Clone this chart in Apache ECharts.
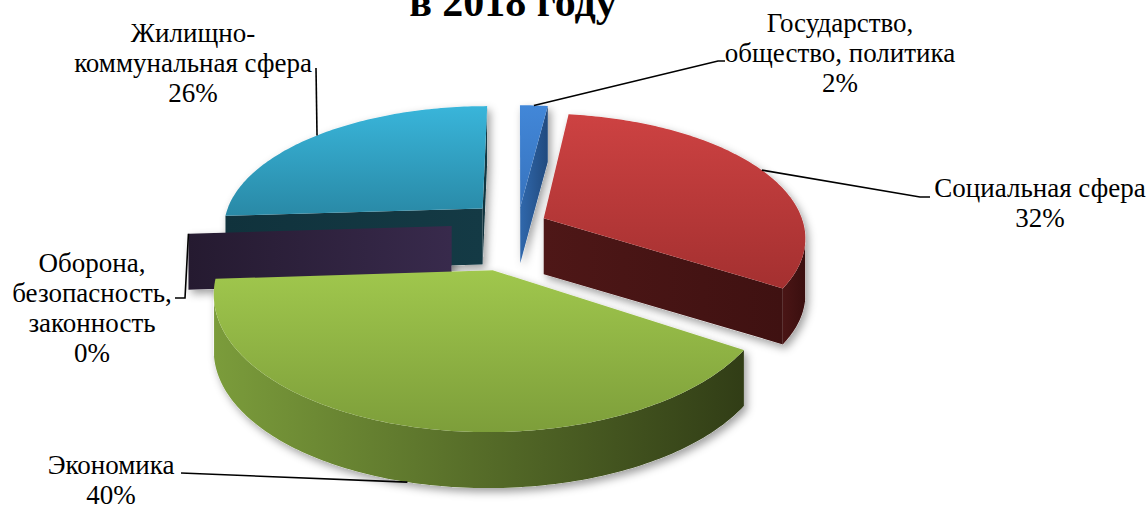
<!DOCTYPE html>
<html>
<head>
<meta charset="utf-8">
<script src="https://cdn.jsdelivr.net/npm/echarts@6/dist/echarts.min.js"></script>
<style>
  html, body { margin: 0; padding: 0; background: #ffffff; }
  #chart { width: 1146px; height: 506px; }
</style>
</head>
<body>
<div id="chart"></div>
<script>
// ---- data ----
const categories = [
  'Государство,\nобщество, политика',
  'Социальная сфера',
  'Экономика',
  'Оборона,\nбезопасность,\nзаконность',
  'Жилищно-\nкоммунальная сфера'
];
const shares = [2, 32, 40, 0, 26];
const titleText = 'в 2018 году';

// ---- look ----
const explode = [0.14, 0.11, 0.37, 0.255, 0.19];
const palette = [
  { top: ['#4287d8', '#3773be'], face: ['#3068ac', '#214a7e'], wall: ['#3068ac', '#1f4474'] },
  { top: ['#cd4242', '#a43030'], face: ['#4e1717', '#3f1111'], wall: ['#4a1515', '#3a0f0f'] },
  { top: ['#a0c74d', '#7d9e3a'], face: ['#607f2b', '#333f18'], wall: ['#7b9c3b', '#313d16'] },
  { top: ['#3a2a50', '#2c1f3c'], face: ['#251a30', '#382a4c'], wall: ['#2a1d38', '#2a1d38'] },
  { top: ['#39b5da', '#2989a6'], face: ['#10323c', '#143a45'], wall: ['#10323c', '#10323c'] }
];
const view = { cx: 518, cy: 224, rx: 260, ry: 122, persp: 0.15, depth: 56, camZ: -5.5, startAngle: 0 };
const serif = '"Liberation Serif", "Times New Roman", serif';
const labelSize = 27;
const lineStep = 30;
const labelLayout = [
  { x: 840, y: 32, level: 'top', path: [[718, 61], [725, 61]] },
  { x: 1040, y: 197, level: 'top', path: [[920, 197], [930, 197]] },
  { x: 111, y: 474, level: 'bottom', path: [[181, 473]] },
  { x: 92, y: 272, level: 'top', path: [[185, 298], [175, 298]] },
  { x: 193, y: 42, level: 'top', path: [[316, 68]] }
];

const total = shares.reduce((s, v) => s + v, 0);
const DEG = Math.PI / 180;

function project(X, Z, down) {
  const d = 1 + view.persp * Z;
  return [view.cx + view.rx * X / d, view.cy - view.ry * Z / d + (down || 0)];
}

function sliceGeometry(share, before, idx) {
  const a0 = (view.startAngle + before / total * 360) * DEG;
  const a1 = (view.startAngle + (before + share) / total * 360) * DEG;
  const mid = (a0 + a1) / 2;
  const ox = explode[idx] * Math.sin(mid);
  const oz = explode[idx] * Math.cos(mid);
  const steps = Math.max(1, Math.ceil((a1 - a0) / DEG));
  const angles = [];
  for (let s = 0; s <= steps; s++) angles.push(a0 + (a1 - a0) * s / steps);
  const rim = (t, down) => project(ox + Math.sin(t), oz + Math.cos(t), down);
  return { a0, a1, mid, ox, oz, angles, rim };
}

function hull(pts) {
  const p = pts.slice().sort((a, b) => a[0] - b[0] || a[1] - b[1]);
  const cross = (o, a, b) => (a[0] - o[0]) * (b[1] - o[1]) - (a[1] - o[1]) * (b[0] - o[0]);
  const lower = [], upper = [];
  for (const q of p) {
    while (lower.length >= 2 && cross(lower[lower.length - 2], lower[lower.length - 1], q) <= 0) lower.pop();
    lower.push(q);
  }
  for (let i = p.length - 1; i >= 0; i--) {
    const q = p[i];
    while (upper.length >= 2 && cross(upper[upper.length - 2], upper[upper.length - 1], q) <= 0) upper.pop();
    upper.push(q);
  }
  upper.pop(); lower.pop();
  return lower.concat(upper);
}

const grad = (c, vertical) => ({
  type: 'linear', x: 0, y: 0, x2: vertical ? 0 : 1, y2: vertical ? 1 : 0,
  colorStops: [{ offset: 0, color: c[0] }, { offset: 1, color: c[1] }]
});

// cumulative start of every slice
const starts = shares.map((v, i) => shares.slice(0, i).reduce((s, x) => s + x, 0));

// far slices first so nearer ones paint over them
const drawOrder = shares.map((v, i) => i).sort((a, b) => {
  const za = explode[a] * Math.cos(((starts[a] + shares[a] / 2) / total * 360 + view.startAngle) * DEG);
  const zb = explode[b] * Math.cos(((starts[b] + shares[b] / 2) / total * 360 + view.startAngle) * DEG);
  return zb - za;
});

function renderSlice(params, api) {
  const share = api.value(0), before = api.value(1), idx = api.value(2);
  const g = sliceGeometry(share, before, idx);
  const pal = palette[idx];
  const h = view.depth;
  const base = 10 + params.dataIndex * 4;
  const apexTop = project(g.ox, g.oz, 0);
  const apexBot = project(g.ox, g.oz, h);
  const topPts = [apexTop].concat(g.angles.map(t => g.rim(t, 0)));
  const botPts = [apexBot].concat(g.angles.map(t => g.rim(t, h)));
  const seen = (nx, nz, px, pz) => nx * (0 - px) + nz * (view.camZ - pz) > 0;
  const children = [];

  children.push({
    type: 'polygon', silent: true, z2: 1,
    shape: { points: hull(topPts.concat(botPts)) },
    style: { fill: '#ffffff', shadowBlur: 9, shadowColor: 'rgba(0,0,0,0.38)', shadowOffsetX: 3, shadowOffsetY: 4 }
  });

  // outer curved wall
  const vis = g.angles.filter(t => seen(Math.sin(t), Math.cos(t), g.ox + Math.sin(t), g.oz + Math.cos(t)));
  if (vis.length >= 2) {
    const pts = vis.map(t => g.rim(t, 0)).concat(vis.slice().reverse().map(t => g.rim(t, h)));
    children.push({ type: 'polygon', z2: base, shape: { points: pts }, style: { fill: grad(pal.wall, false) } });
  }
  // radial cut faces
  const cut = t => [apexTop, g.rim(t, 0), g.rim(t, h), apexBot];
  if (seen(-Math.cos(g.a0), Math.sin(g.a0), g.ox, g.oz)) {
    children.push({ type: 'polygon', z2: base, shape: { points: cut(g.a0) }, style: { fill: grad(pal.face, false) } });
  }
  if (share > 0 && seen(Math.cos(g.a1), -Math.sin(g.a1), g.ox, g.oz)) {
    children.push({ type: 'polygon', z2: base, shape: { points: cut(g.a1) }, style: { fill: grad(pal.face, false) } });
  }
  // top face
  if (share > 0) {
    children.push({ type: 'polygon', z2: base + 1, shape: { points: topPts }, style: { fill: grad(pal.top, true) } });
  }
  return { type: 'group', children };
}

function renderLabel(params, api) {
  const idx = api.value(2);
  const g = sliceGeometry(api.value(0), api.value(1), idx);
  const lay = labelLayout[idx];
  const start = g.rim(g.mid, lay.level === 'bottom' ? view.depth : 0);
  const pct = Math.round(api.value(0) / total * 100) + '%';
  const lines = categories[idx].split('\n').concat([pct]);
  const children = [{
    type: 'polyline', z2: 100, silent: true,
    shape: { points: [start].concat(lay.path) },
    style: { stroke: '#000000', lineWidth: 1.6, fill: null }
  }];
  lines.forEach((t, k) => {
    children.push({
      type: 'text', z2: 101, silent: true,
      style: {
        text: t, x: lay.x, y: lay.y + k * lineStep - 9,
        fontFamily: serif, fontSize: labelSize, fill: '#000000',
        align: 'center', verticalAlign: 'middle'
      }
    });
  });
  return { type: 'group', children };
}

const sliceData = drawOrder.map(i => ({ name: categories[i], value: [shares[i], starts[i], i] }));
const labelData = shares.map((v, i) => ({ name: categories[i], value: [v, starts[i], i] }));

const chart = echarts.init(document.getElementById('chart'), null, { renderer: 'svg', width: 1146, height: 506 });
chart.setOption({
  backgroundColor: '#ffffff',
  animation: false,
  graphic: [{
    type: 'text', x: 513, y: 2, z: 10, silent: true,
    style: {
      text: titleText, fontFamily: serif, fontSize: 42, fontWeight: 'bold',
      fill: '#000000', align: 'center', verticalAlign: 'middle'
    }
  }],
  series: [
    { type: 'custom', coordinateSystem: 'none', renderItem: renderSlice, data: sliceData, silent: true },
    { type: 'custom', coordinateSystem: 'none', renderItem: renderLabel, data: labelData, silent: true, z: 5 }
  ]
});
</script>
</body>
</html>
